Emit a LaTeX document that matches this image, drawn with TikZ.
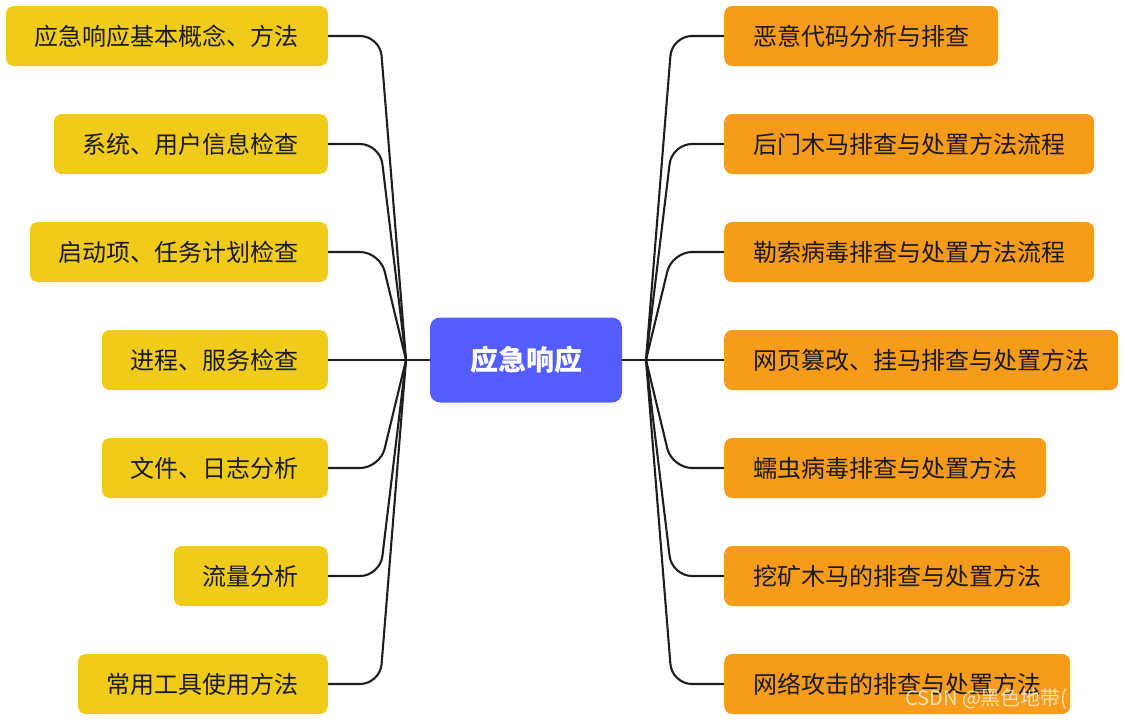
\documentclass[tikz,border=0pt]{standalone}
\usepackage{fontspec}
\setmainfont{Noto Sans CJK SC}
\definecolor{rootblue}{HTML}{545DFF}
\definecolor{leafyellow}{HTML}{F0CB1A}
\definecolor{leaforange}{HTML}{F79C1A}
\definecolor{linegray}{HTML}{1E1E1E}

\begin{document}
\begin{tikzpicture}[x=1pt, y=-1pt,
    topic/.style={rounded corners=8pt, minimum height=60pt, inner xsep=29pt, inner ysep=0pt,
      font=\fontsize{24pt}{28pt}\selectfont, text=black!90},
    lefttopic/.style={topic, fill=leafyellow, anchor=east},
    righttopic/.style={topic, fill=leaforange, anchor=west},
    branch/.style={line width=2.1pt, draw=linegray, rounded corners=20pt}
    ]
    \useasboundingbox (0,0) rectangle (1124,720);
    \node[fill=rootblue, rounded corners=10pt, minimum width=192pt, minimum height=85pt,
      text=white, font=\bfseries\fontsize{28pt}{32pt}\selectfont] (root) at (526,360) {应急响应};
    \coordinate (jl) at (406,360);
    \coordinate (jr) at (646,360);
    \coordinate (bl) at (380,0);
    \coordinate (br) at (672,0);
    \draw[branch] (root.west) -- (jl);
    \draw[branch] (root.east) -- (jr);
    % left branches
    \foreach \txt [count=\i] in {应急响应基本概念、方法, 系统、用户信息检查, 启动项、任务计划检查,
        进程、服务检查, 文件、日志分析, 流量分析, 常用工具使用方法}
      {
      \node[lefttopic] (l\i) at (328, {108*\i-72}) {\txt};
      \draw[branch] (jl) -- (l\i.east -| bl) -- (l\i.east);
      }
    % right branches
    \foreach \txt [count=\i] in {恶意代码分析与排查, 后门木马排查与处置方法流程, 勒索病毒排查与处置方法流程,
        网页篡改、挂马排查与处置方法, 蠕虫病毒排查与处置方法, 挖矿木马的排查与处置方法, 网络攻击的排查与处置方法}
      {
      \node[righttopic] (r\i) at (724, {108*\i-72}) {\txt};
      \draw[branch] (jr) -- (r\i.west -| br) -- (r\i.west);
      }
    \node[anchor=west, inner sep=0pt, text=white, opacity=0.7,
      font=\fontsize{20pt}{22pt}\selectfont] (mark) at (905,699) {CSDN @黑色地带(};
\end{tikzpicture}
\end{document}
